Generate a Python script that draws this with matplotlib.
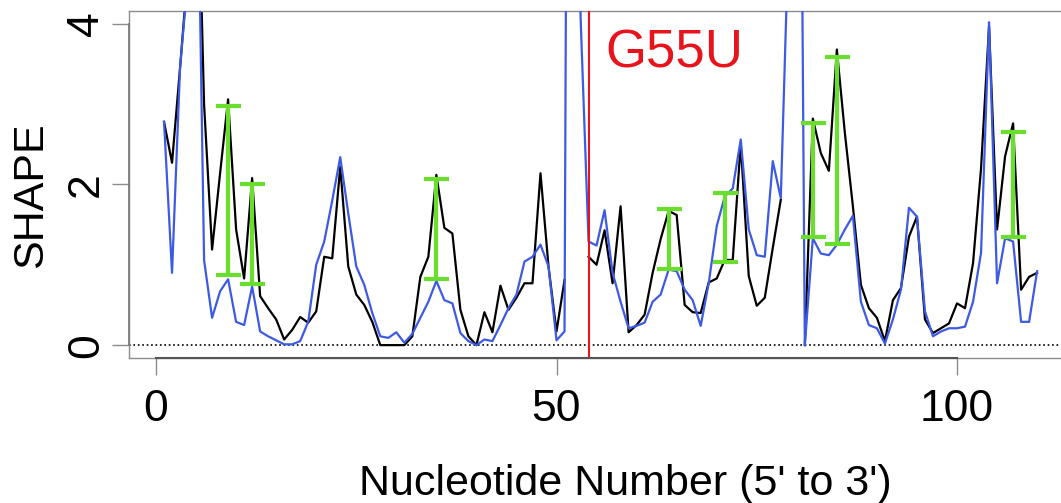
import numpy as np
import matplotlib
matplotlib.use("Agg")
import matplotlib.pyplot as plt

# SHAPE reactivity per nucleotide
nt = np.arange(1, 111)

wt = [2.78, 2.27, 3.45, 4.7, 6.9, 3.0, 1.19, 2.14, 3.06, 1.44,
      0.83, 2.08, 0.61, 0.46, 0.32, 0.07, 0.19, 0.35, 0.28, 0.42,
      1.10, 1.08, 2.22, 0.98, 0.63, 0.50, 0.29, 0.0, 0.0, 0.0,
      0.0, 0.11, 0.85, 1.10, 2.12, 1.46, 1.39, 0.44, 0.11, 0.0,
      0.41, 0.16, 0.74, 0.44, 0.59, 0.77, 0.77, 2.14, 0.98, 0.17,
      0.81, np.nan, np.nan, 1.10, 1.00, 1.43, 0.77, 1.73, 0.16, 0.25,
      0.38, 0.90, 1.32, 1.67, 1.62, 0.50, 0.41, 0.40, 0.78, 0.83,
      1.06, 1.06, 2.51, 0.86, 0.49, 0.59, 1.21, 1.81, np.nan, np.nan,
      0.0, 2.82, 2.39, 2.17, 3.68, 2.64, 1.73, 0.75, 0.46, 0.34,
      0.05, 0.56, 0.71, 1.35, 1.60, 0.32, 0.15, 0.21, 0.27, 0.52,
      0.46, 1.02, 2.20, 3.97, 1.44, 2.35, 2.76, 0.69, 0.85, 0.90]

mut = [2.78, 0.90, 3.45, 4.6, 7.3, 1.06, 0.34, 0.67, 0.82, 0.29,
       0.25, 0.73, 0.17, 0.11, 0.06, 0.01, 0.01, 0.05, 0.29, 1.00,
       1.29, 1.80, 2.34, 1.64, 0.98, 0.75, 0.40, 0.11, 0.09, 0.16,
       0.03, 0.14, 0.34, 0.54, 0.80, 0.56, 0.52, 0.15, 0.05, 0.0,
       0.07, 0.05, 0.25, 0.46, 0.63, 1.04, 1.10, 1.25, 0.98, 0.06,
       0.17, 24.0, 4.1, 1.29, 1.24, 1.68, 0.90, 0.54, 0.21, 0.24,
       0.28, 0.54, 0.63, 0.94, 0.92, 0.69, 0.56, 0.24, 0.77, 1.48,
       1.85, 1.95, 2.56, 1.44, 1.12, 1.10, 2.29, 1.83, 5.2, 14.0,
       0.0, 1.33, 1.14, 1.12, 1.25, 1.44, 1.61, 0.54, 0.25, 0.21,
       0.02, 0.32, 0.69, 1.71, 1.60, 0.42, 0.11, 0.17, 0.21, 0.21,
       0.23, 0.54, 1.15, 4.02, 0.77, 1.33, 1.29, 0.29, 0.29, 0.92]

# significant differences (green bars)
diff_nt = [9, 12, 35, 64, 71, 82, 85, 107]
diff_lo = [0.87, 0.76, 0.82, 0.95, 1.03, 1.34, 1.26, 1.34]
diff_hi = [2.98, 2.00, 2.07, 1.69, 1.90, 2.77, 3.59, 2.65]

mut_pos = 54
mut_label = "G55U"

font = ["Liberation Sans", "DejaVu Sans"]

fig = plt.figure(figsize=(10.61, 5.03), dpi=100)
ax = fig.add_axes([0.1216, 0.2883, 0.8888, 0.6899])

ax.axhline(0, color="black", ls=":", lw=1.2, zorder=1)
ax.plot(nt, wt, color="black", lw=1.6, zorder=2)
ax.plot(nt, mut, color="#3d5ae4", lw=1.6, zorder=3)

lo = np.array(diff_lo)
hi = np.array(diff_hi)
mid = (lo + hi) / 2
ax.errorbar(diff_nt, mid, yerr=[mid - lo, hi - mid], fmt="none",
            ecolor="#6ade2c", elinewidth=3, capsize=9, capthick=3, zorder=4)

ax.axvline(mut_pos, color="#e8141c", lw=1.5, zorder=5)
fig.text(605 / 1061, 1 - 68 / 503, mut_label, color="#e8141c",
         fontsize=38, family=font, ha="left", va="baseline")

ax.set_xlim(-3.37, 114.36)
ax.set_ylim(-0.16, 4.16)

for s in ax.spines.values():
    s.set_color("#8c8c8c")
    s.set_linewidth(1.0)

# R style axis lines between first and last tick
ax.plot([0, 100], [-0.16, -0.16], color="#555555", lw=1.5, clip_on=False, zorder=6)
ax.plot([-3.37, -3.37], [0, 4], color="#777777", lw=1.2, clip_on=False, zorder=6)

ax.set_xticks([0, 50, 100])
ax.set_yticks([0, 2, 4])
ax.tick_params(axis="both", direction="out", length=12, width=1.0,
               color="#8c8c8c", labelsize=32)
ax.tick_params(axis="x", pad=10)
ax.tick_params(axis="y", pad=4)
for lab in ax.get_xticklabels():
    lab.set_family(font)
for lab in ax.get_yticklabels():
    lab.set_family(font)
    lab.set_rotation(90)
    lab.set_va("center")

fig.text(625 / 1061, 1 - 495 / 503, "Nucleotide Number (5' to 3')",
         fontsize=31, family=font, ha="center", va="baseline")
fig.text(42 / 1061, 1 - 195.5 / 503, "SHAPE", fontsize=31, family=font,
         rotation=90, rotation_mode="anchor", ha="center", va="baseline")

fig.savefig("out.png", dpi=100)
